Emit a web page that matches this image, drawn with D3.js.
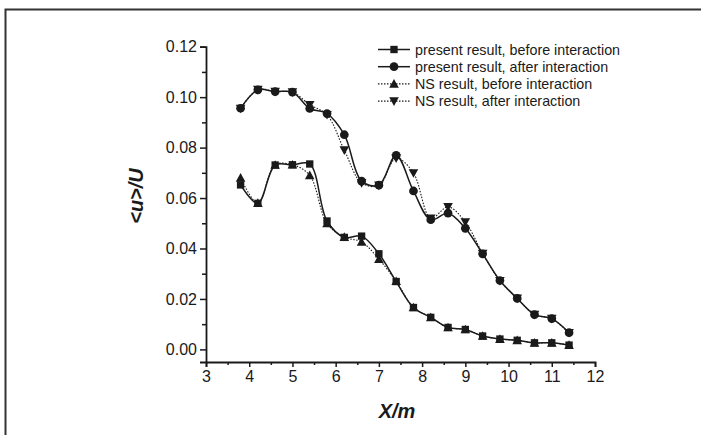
<!DOCTYPE html>
<html>
<head>
<meta charset="utf-8">
<script src="https://cdn.jsdelivr.net/npm/d3@7"></script>
<style>
	body { margin: 0; background: #fff; }
	svg text { font-family: "Liberation Sans", Arial, sans-serif; fill: #1a1a1a; }
</style>
</head>
<body>
<svg id="chart" width="701" height="435"></svg>
<script>

// Streamwise positions of the sampling stations
const xs = [3.8, 4.2, 4.6, 5.0, 5.4, 5.8, 6.2, 6.6, 7.0, 7.4,
			7.8, 8.2, 8.6, 9.0, 9.4, 9.8, 10.2, 10.6, 11.0, 11.4];

const presentBefore = [0.0652, 0.0579, 0.0731, 0.0732, 0.0735, 0.0509, 0.0444, 0.0449, 0.0379, 0.0269,
					   0.0166, 0.0127, 0.0087, 0.0079, 0.0053, 0.0041, 0.0036, 0.0026, 0.0026, 0.0017];

const presentAfter = [0.0956, 0.1029, 0.1022, 0.1020, 0.0955, 0.0935, 0.0851, 0.0667, 0.0651, 0.0769,
					  0.0628, 0.0514, 0.0540, 0.0480, 0.0379, 0.0273, 0.0202, 0.0138, 0.0122, 0.0066];

const nsBefore = [0.0680, 0.0580, 0.0731, 0.0732, 0.0690, 0.0499, 0.0445, 0.0426, 0.0358, 0.0270,
				  0.0166, 0.0127, 0.0087, 0.0079, 0.0053, 0.0041, 0.0036, 0.0026, 0.0026, 0.0017];

const nsAfter = [0.0955, 0.1030, 0.1022, 0.1020, 0.0970, 0.0930, 0.0790, 0.0660, 0.0650, 0.0758,
				 0.0699, 0.0520, 0.0565, 0.0505, 0.0380, 0.0272, 0.0202, 0.0138, 0.0122, 0.0066];

const xTicks = [3, 4, 5, 6, 7, 8, 9, 10, 11, 12];
const yTicks = [0.00, 0.02, 0.04, 0.06, 0.08, 0.10, 0.12];

const seriesNames = ["present result, before interaction",
					 "present result, after interaction",
					 "NS result, before interaction",
					 "NS result, after interaction"];

const series = [
	{ name: seriesNames[0], values: presentBefore, symbol: d3.symbolSquare, size: 54, dash: null },
	{ name: seriesNames[1], values: presentAfter, symbol: d3.symbolCircle, size: 60, dash: null },
	{ name: seriesNames[2], values: nsBefore, symbol: "up", size: 0, dash: "1.5,1.5" },
	{ name: seriesNames[3], values: nsAfter, symbol: "down", size: 0, dash: "1.5,1.5" }
];

const svg = d3.select("#chart");
const ink = "#1a1a1a";

// Frame of the figure (only top and left edges are inside the picture)
svg.append("path")
	.attr("d", "M5.5,440 V9.5 H705")
	.attr("fill", "none")
	.attr("stroke", "#333")
	.attr("stroke-width", 2);

const x = d3.scaleLinear().domain([3, 12]).range([206, 595]);
const y = d3.scaleLinear().domain([-0.005, 0.12]).range([362, 46.7]);

// Axes
const xAxis = svg.append("g")
	.attr("transform", "translate(0," + y(-0.005) + ")")
	.call(d3.axisBottom(x).tickValues(xTicks).tickSize(5).tickPadding(4).tickFormat(d3.format("d")));

const xMinor = svg.append("g")
	.attr("transform", "translate(0," + y(-0.005) + ")")
	.call(d3.axisBottom(x).tickValues(d3.range(3.5, 12, 1)).tickSize(3).tickFormat(""));

const yAxis = svg.append("g")
	.attr("transform", "translate(" + x(3) + ",0)")
	.call(d3.axisLeft(y).tickValues(yTicks).tickSize(6).tickPadding(3).tickFormat(d3.format(".2f")));

const yMinor = svg.append("g")
	.attr("transform", "translate(" + x(3) + ",0)")
	.call(d3.axisLeft(y).tickValues(d3.range(0.01, 0.12, 0.02)).tickSize(4).tickFormat(""));

[xAxis, xMinor, yAxis, yMinor].forEach(g => {
	g.select(".domain").attr("stroke", ink).attr("stroke-width", 1.8);
	g.selectAll(".tick line").attr("stroke", ink).attr("stroke-width", 1.5);
	g.selectAll(".tick text")
		.style("font-family", "'Liberation Sans', Arial, sans-serif")
		.style("font-size", "16px")
		.attr("fill", ink);
});
xMinor.select(".domain").remove();
yMinor.select(".domain").remove();

// Axis titles
svg.append("text")
	.attr("transform", "translate(143,196) rotate(-90)")
	.attr("text-anchor", "middle")
	.style("font-size", "20px")
	.style("font-weight", "bold")
	.style("font-style", "italic")
	.text("<u>/U");

svg.append("text")
	.attr("x", 397)
	.attr("y", 418)
	.attr("text-anchor", "middle")
	.style("font-size", "20px")
	.style("font-weight", "bold")
	.style("font-style", "italic")
	.text("X/m");

// Markers
function drawMarker(g, s, cx, cy) {
	if (s.symbol === "up" || s.symbol === "down") {
		const h = 4.8, w = 4.8;
		const dir = s.symbol === "up" ? 1 : -1;
		g.append("path")
			.attr("d", "M" + cx + "," + (cy - dir * h) +
				  "L" + (cx + w) + "," + (cy + dir * h * 0.8) +
				  "L" + (cx - w) + "," + (cy + dir * h * 0.8) + "Z")
			.attr("fill", ink);
	} else {
		g.append("path")
			.attr("transform", "translate(" + cx + "," + cy + ")")
			.attr("d", d3.symbol().type(s.symbol).size(s.size)())
			.attr("fill", ink);
	}
}

const line = d3.line()
	.x((d, i) => x(xs[i]))
	.y(d => y(d))
	.curve(d3.curveCatmullRom.alpha(0.5));

// Draw NS series first, then present results on top
[2, 3, 0, 1].forEach(k => {
	const s = series[k];
	const g = svg.append("g");
	g.append("path")
		.datum(s.values)
		.attr("d", line)
		.attr("fill", "none")
		.attr("stroke", ink)
		.attr("stroke-width", s.dash ? 1.1 : 1.5)
		.attr("stroke-dasharray", s.dash);
	s.values.forEach((v, i) => drawMarker(g, s, x(xs[i]), y(v)));
});

// Legend
const legend = svg.append("g");
series.forEach((s, i) => {
	const ly = 49.5 + i * 17.2;
	legend.append("line")
		.attr("x1", 378).attr("x2", 410)
		.attr("y1", ly).attr("y2", ly)
		.attr("stroke", ink)
		.attr("stroke-width", s.dash ? 1.1 : 1.5)
		.attr("stroke-dasharray", s.dash);
	drawMarker(legend, s, 394, ly);
	legend.append("text")
		.attr("x", 415)
		.attr("y", ly + 5)
		.style("font-size", "14.3px")
		.text(s.name);
});

</script>
</body>
</html>
